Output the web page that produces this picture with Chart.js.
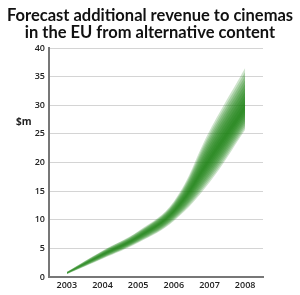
<!DOCTYPE html>
<html>
<head>
<meta charset="utf-8">
<script src="https://cdn.jsdelivr.net/npm/chart.js@4"></script>
<style>
  html, body { margin: 0; padding: 0; background: #fff; }
  #wrap { width: 300px; height: 295px; position: relative; }
</style>
</head>
<body>
<div id="wrap"><canvas id="chart" width="300" height="295"></canvas></div>
<script>
// values ($m)
const years = ['2003', '2004', '2005', '2006', '2007', '2008'];
const mid  = [0.7, 3.9, 7.0, 11.5, 20.5, 29.5];
const high = [0.9, 4.6, 8.0, 13.2, 25.5, 36.5];
const low  = [0.5, 3.2, 6.0, 9.8, 16.5, 25.7];
const yTicks = [0, 5, 10, 15, 20, 25, 30, 35, 40];

const titleLines = ['Forecast additional revenue to cinemas', 'in the EU from alternative content'];
const unitLabel = '$m';

// fuzzy band: stack of nested bands, each one a bit narrower
const LAYERS = 10;
const datasets = [];
for (let i = 0; i < LAYERS; i++) {
    const f = 1 - i / LAYERS;
    const up = mid.map((m, k) => m + (high[k] - m) * f);
    const dn = mid.map((m, k) => m - (m - low[k]) * f);
    datasets.push({
        data: up,
        fill: '+1',
        backgroundColor: 'rgba(34, 132, 24, 0.22)',
        borderWidth: 0,
        pointRadius: 0,
        tension: 0.4
    });
    datasets.push({
        data: dn,
        fill: false,
        borderWidth: 0,
        pointRadius: 0,
        tension: 0.4
    });
}

// title centred on the whole canvas, "$m" horizontal left of the axis
const textPlugin = {
    id: 'chartText',
    afterDraw(chart) {
        const { ctx, scales, width } = chart;
        ctx.save();
        ctx.fillStyle = '#111';
        ctx.textAlign = 'center';
        ctx.textBaseline = 'alphabetic';
        ctx.font = 'bold 16.5px Lato';
        ctx.fillText(titleLines[0], width / 2, 21);
        ctx.fillText(titleLines[1], width / 2, 38);

        ctx.font = 'bold 10px "Open Sans"';
        ctx.fillStyle = '#222';
        ctx.textAlign = 'left';
        ctx.textBaseline = 'middle';
        ctx.fillText(unitLabel, 16, scales.y.getPixelForValue(27));
        ctx.restore();
    }
};

new Chart(document.getElementById('chart'), {
    type: 'line',
    data: { labels: years, datasets: datasets },
    options: {
        responsive: false,
        animation: false,
        devicePixelRatio: 1,
        layout: { padding: { left: 0, right: 37, top: 48, bottom: 0 } },
        plugins: {
            legend: { display: false },
            tooltip: { enabled: false },
            title: { display: false }
        },
        scales: {
            x: {
                offset: true,
                grid: { display: false, drawTicks: false },
                border: { color: '#777', width: 2 },
                ticks: { color: '#222', font: { family: 'Open Sans', size: 9, weight: '600' }, padding: 3, maxRotation: 0 },
                afterFit(scale) { scale.height = 18; }
            },
            y: {
                min: 0,
                max: 40,
                afterBuildTicks(scale) { scale.ticks = yTicks.map(v => ({ value: v })); },
                grid: { color: '#d4d4d4', drawTicks: false },
                border: { color: '#777', width: 2 },
                ticks: { color: '#222', font: { family: 'Open Sans', size: 9, weight: '600' }, padding: 4 },
                afterFit(scale) { scale.width = 49; }
            }
        }
    },
    plugins: [textPlugin]
});
</script>
</body>
</html>
